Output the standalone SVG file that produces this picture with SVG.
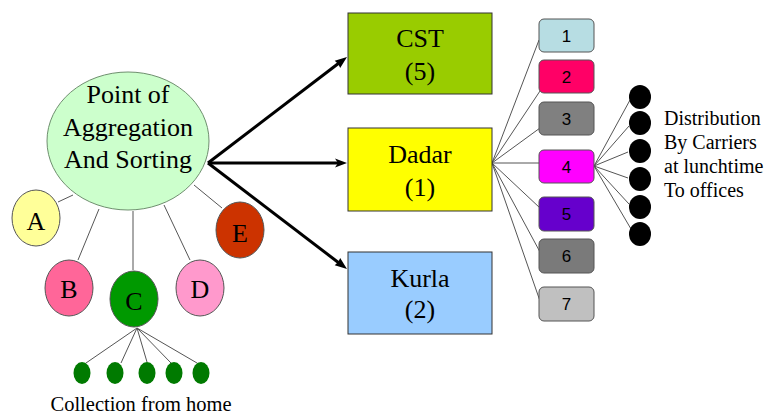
<svg xmlns="http://www.w3.org/2000/svg" width="766" height="417" viewBox="0 0 766 417">
  <style>
    .thin { stroke: #555; stroke-width: 1; fill: none; }
    .shaft { stroke: #000; stroke-width: 3; fill: none; }
    .bubble { stroke: #555; stroke-width: 1; }
    .station { stroke: #333; stroke-width: 1; }
    .lane { stroke: #555; stroke-width: 1; }
    .t26 { font-family: "Liberation Serif", serif; font-size: 26px; }
    .t20 { font-family: "Liberation Serif", serif; font-size: 20.5px; }
    .t21 { font-family: "Liberation Serif", serif; font-size: 20px; }
    .t17 { font-family: "Liberation Sans", sans-serif; font-size: 17px; }
  </style>
  <rect width="766" height="417" fill="#fff"/>
  <g id="connectors">
    <line class="thin" x1="58" y1="202" x2="73" y2="195"/>
    <line class="thin" x1="78" y1="260" x2="99" y2="209"/>
    <line class="thin" x1="133" y1="211" x2="133" y2="270"/>
    <line class="thin" x1="164" y1="205" x2="190" y2="260"/>
    <line class="thin" x1="194" y1="185" x2="222" y2="208"/>
    <line class="thin" x1="137" y1="328" x2="86" y2="363"/>
    <line class="thin" x1="137" y1="328" x2="121" y2="363"/>
    <line class="thin" x1="137" y1="328" x2="147" y2="362"/>
    <line class="thin" x1="137" y1="328" x2="171" y2="363"/>
    <line class="thin" x1="137" y1="328" x2="197" y2="363"/>
    <line class="shaft" x1="208" y1="163" x2="339" y2="63"/>
    <polygon points="347,57 340.2,67.9 338.2,63.9 334.7,60.7" fill="#000"/>
    <line class="shaft" x1="208" y1="163" x2="338" y2="163"/>
    <polygon points="347,163 335,167.5 338,163 335,158.5" fill="#000"/>
    <line class="shaft" x1="208" y1="163" x2="339" y2="263"/>
    <polygon points="347,269 334.7,265.3 338.2,262.1 340.2,258.1" fill="#000"/>
    <line class="thin" x1="492" y1="163" x2="539" y2="40"/>
    <line class="thin" x1="492" y1="163" x2="540" y2="91"/>
    <line class="thin" x1="492" y1="163" x2="540" y2="128"/>
    <line class="thin" x1="492" y1="163" x2="539" y2="163"/>
    <line class="thin" x1="492" y1="163" x2="540" y2="208"/>
    <line class="thin" x1="492" y1="163" x2="540" y2="252"/>
    <line class="thin" x1="492" y1="163" x2="540" y2="301"/>
    <line class="thin" x1="594" y1="166" x2="630" y2="100"/>
    <line class="thin" x1="594" y1="166" x2="629" y2="126"/>
    <line class="thin" x1="594" y1="166" x2="628" y2="152"/>
    <line class="thin" x1="594" y1="166" x2="628" y2="178"/>
    <line class="thin" x1="594" y1="166" x2="629" y2="204"/>
    <line class="thin" x1="594" y1="166" x2="631" y2="229"/>
  </g>
  <g id="hub">
    <ellipse cx="128" cy="141" rx="81" ry="69" fill="#ccffcc" stroke="#6f8f6f" stroke-width="1"/>
    <text class="t26" text-anchor="middle" x="128" y="103">Point of</text>
    <text class="t26" text-anchor="middle" x="128" y="136">Aggregation</text>
    <text class="t26" text-anchor="middle" x="128" y="168">And Sorting</text>
  </g>
  <g id="home-a">
    <ellipse class="bubble" cx="36" cy="218" rx="24" ry="28" fill="#ffff99"/>
    <text class="t26" text-anchor="middle" x="36" y="230">A</text>
  </g>
  <g id="home-b">
    <ellipse class="bubble" cx="69" cy="288" rx="24" ry="28" fill="#ff6699"/>
    <text class="t26" text-anchor="middle" x="69" y="298">B</text>
  </g>
  <g id="home-c">
    <ellipse class="bubble" cx="134" cy="299" rx="24" ry="28" fill="#009900"/>
    <text class="t26" text-anchor="middle" x="134" y="310">C</text>
  </g>
  <g id="home-d">
    <ellipse class="bubble" cx="200" cy="288" rx="24" ry="28" fill="#ff99cc"/>
    <text class="t26" text-anchor="middle" x="200" y="298">D</text>
  </g>
  <g id="home-e">
    <ellipse class="bubble" cx="240" cy="230" rx="24" ry="28" fill="#cc3300"/>
    <text class="t26" text-anchor="middle" x="240" y="242">E</text>
  </g>
  <g id="collection">
    <ellipse cx="82" cy="373" rx="8.5" ry="11" fill="#007a00"/>
    <ellipse cx="115" cy="373" rx="8.5" ry="11" fill="#007a00"/>
    <ellipse cx="147" cy="373" rx="8.5" ry="11" fill="#007a00"/>
    <ellipse cx="174" cy="373" rx="8.5" ry="11" fill="#007a00"/>
    <ellipse cx="201" cy="373" rx="8.5" ry="11" fill="#007a00"/>
    <text class="t20" text-anchor="middle" x="141" y="411">Collection from home</text>
  </g>
  <g id="station-cst">
    <rect class="station" x="348" y="13" width="144" height="81" fill="#99cc00"/>
    <text class="t26" text-anchor="middle" x="420" y="47">CST</text>
    <text class="t26" text-anchor="middle" x="420" y="80">(5)</text>
  </g>
  <g id="station-dadar">
    <rect class="station" x="348" y="128" width="144" height="83" fill="#ffff00"/>
    <text class="t26" text-anchor="middle" x="420" y="163">Dadar</text>
    <text class="t26" text-anchor="middle" x="420" y="196">(1)</text>
  </g>
  <g id="station-kurla">
    <rect class="station" x="348" y="252" width="144" height="82" fill="#99ccff"/>
    <text class="t26" text-anchor="middle" x="420" y="287">Kurla</text>
    <text class="t26" text-anchor="middle" x="420" y="318">(2)</text>
  </g>
  <g id="lane-1">
    <rect class="lane" x="539" y="19" width="55" height="33" rx="5" fill="#b7dde3"/>
    <text class="t17" text-anchor="middle" x="566.5" y="42">1</text>
  </g>
  <g id="lane-2">
    <rect class="lane" x="539" y="60" width="55" height="33" rx="5" fill="#ff0066"/>
    <text class="t17" text-anchor="middle" x="566.5" y="83">2</text>
  </g>
  <g id="lane-3">
    <rect class="lane" x="539" y="102" width="55" height="33" rx="5" fill="#808080"/>
    <text class="t17" text-anchor="middle" x="566.5" y="125">3</text>
  </g>
  <g id="lane-4">
    <rect class="lane" x="539" y="150" width="55" height="33" rx="5" fill="#ff00ff"/>
    <text class="t17" text-anchor="middle" x="566.5" y="173">4</text>
  </g>
  <g id="lane-5">
    <rect class="lane" x="539" y="197" width="55" height="34" rx="5" fill="#6600cc"/>
    <text class="t17" text-anchor="middle" x="566.5" y="220">5</text>
  </g>
  <g id="lane-6">
    <rect class="lane" x="539" y="239" width="55" height="34" rx="5" fill="#7a7a7a"/>
    <text class="t17" text-anchor="middle" x="566.5" y="262">6</text>
  </g>
  <g id="lane-7">
    <rect class="lane" x="539" y="287" width="55" height="34" rx="5" fill="#c0c0c0"/>
    <text class="t17" text-anchor="middle" x="566.5" y="310">7</text>
  </g>
  <g id="carriers">
    <ellipse cx="640" cy="97" rx="11" ry="12" fill="#000"/>
    <ellipse cx="640" cy="123" rx="11" ry="12" fill="#000"/>
    <ellipse cx="640" cy="151" rx="11" ry="12" fill="#000"/>
    <ellipse cx="640" cy="179" rx="11" ry="12" fill="#000"/>
    <ellipse cx="640" cy="207" rx="11" ry="12" fill="#000"/>
    <ellipse cx="640" cy="234" rx="11" ry="12" fill="#000"/>
    <text class="t21" x="664" y="125">Distribution</text>
    <text class="t21" x="664" y="149">By Carriers</text>
    <text class="t21" x="664" y="173">at lunchtime</text>
    <text class="t21" x="664" y="197">To offices</text>
  </g>
</svg>
